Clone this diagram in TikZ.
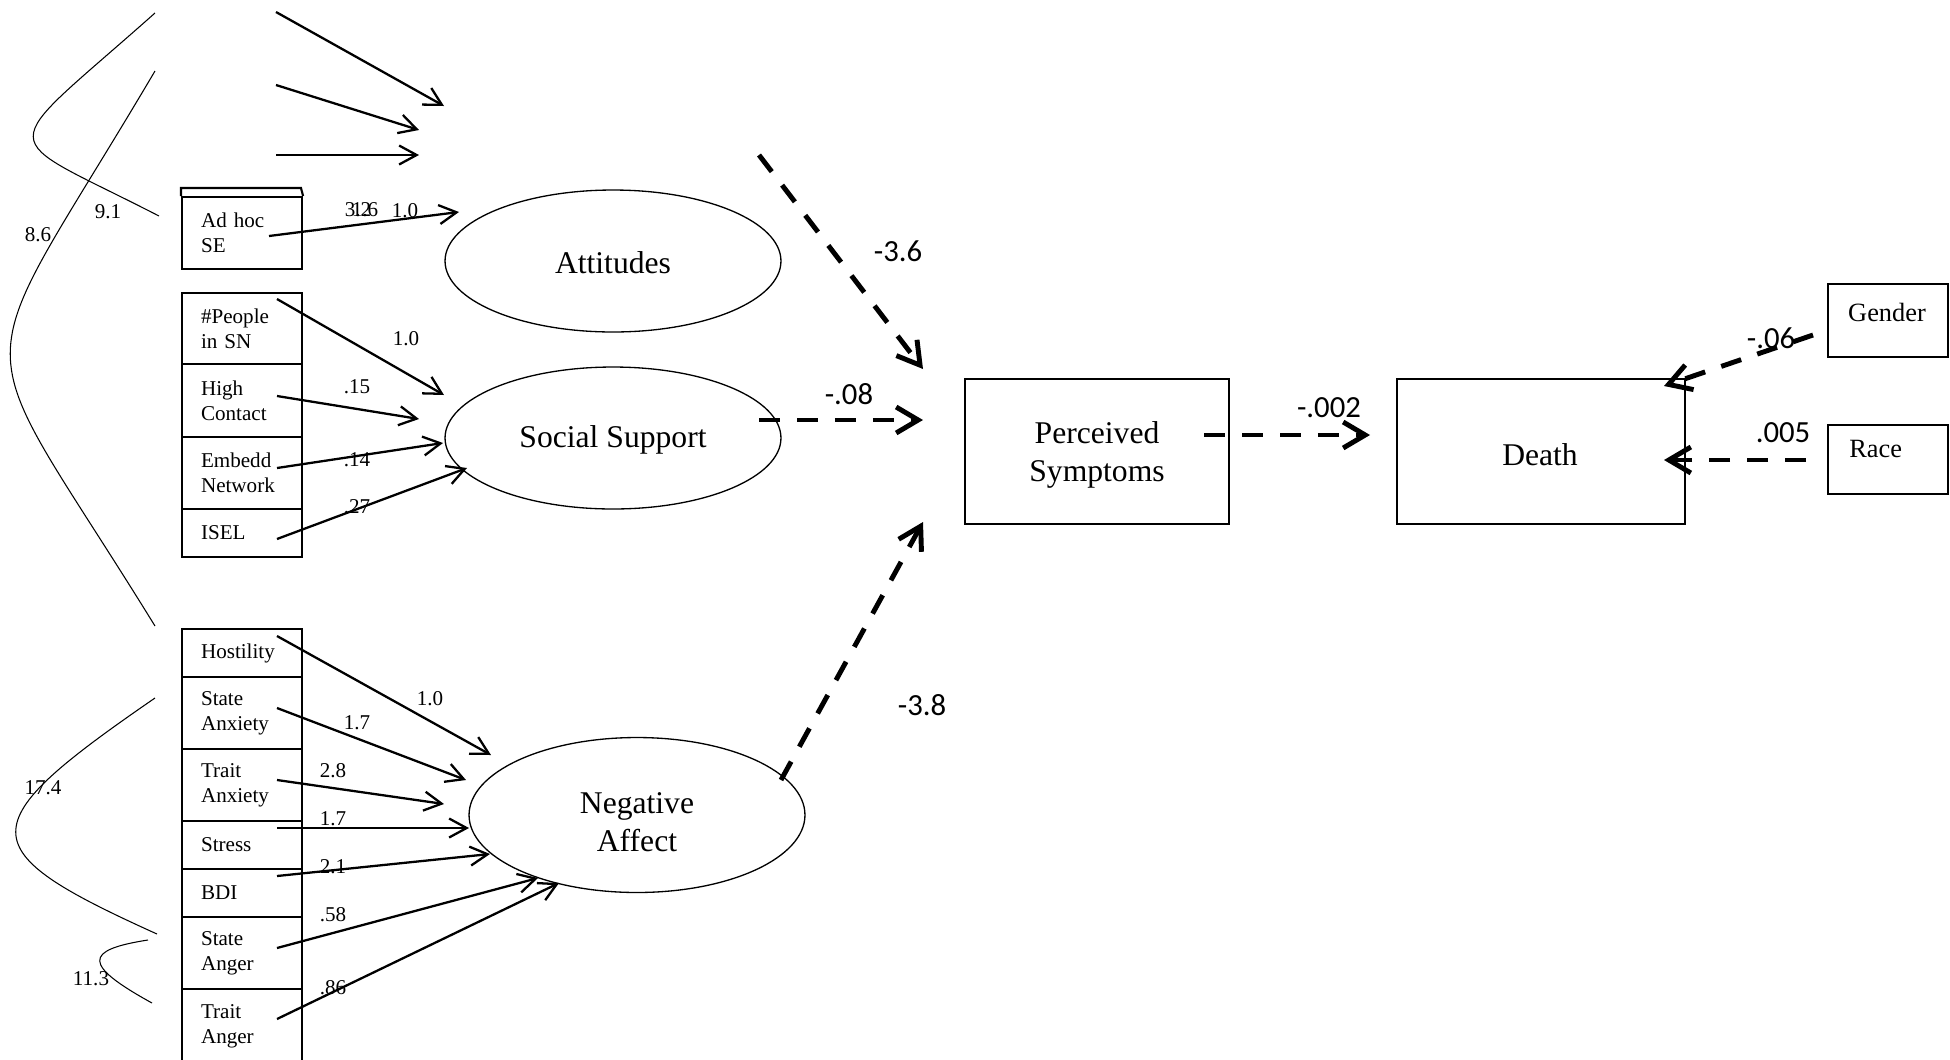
\documentclass[tikz,border=0pt]{standalone}
\usepackage{fontspec}
\setmainfont{Liberation Serif}
\newfontfamily\numfont{Carlito}
\usetikzlibrary{arrows.meta,shapes.geometric}

\newcommand{\indfont}{\fontsize{12pt}{14pt}\selectfont}
\newcommand{\latfont}{\fontsize{18pt}{22pt}\selectfont}
\newcommand{\boxfont}{\fontsize{15pt}{18pt}\selectfont}
\newcommand{\coeffont}{\numfont\fontsize{17.5pt}{20pt}\selectfont}

\begin{document}
\begin{tikzpicture}[x=0.02cm, y=-0.02cm,
  ind/.style={draw, line width=1.2pt, rectangle, anchor=north west,
    inner xsep=0.38cm, inner ysep=0pt, text width=1.64cm, align=left, font=\indfont},
  latent/.style={draw, ellipse, line width=0.75pt, inner sep=0pt,
    minimum width=6.72cm, minimum height=2.84cm},
  obs/.style={draw, rectangle, line width=1.2pt, inner sep=0pt},
  bigtxt/.style={font=\latfont, align=center, inner sep=0pt},
  smallbox/.style={draw, rectangle, line width=1.1pt, inner sep=0pt,
    minimum width=2.4cm},
  load/.style={line width=1.3pt, -{Straight Barb[length=0.35cm,width=0.38cm]}},
  effect/.style={line width=2.8pt, dash pattern=on 0.42cm off 0.34cm,
    -{Straight Barb[length=0.44cm,width=0.52cm]}},
  cov/.style={line width=0.6pt},
  lbl/.style={font=\indfont, inner sep=0pt},
  coef/.style={font=\coeffont, inner sep=0pt}]

\fill[white] (0,0) rectangle (1950,1059);
\useasboundingbox (0,0) rectangle (1950,1059);
\clip (0,0) rectangle (1950,1059);

% ---------- indicator boxes ----------
\node[ind, minimum height=1.44cm] (adhoc) at (181,196) {Ad hoc\\SE};
\draw[line width=1.2pt] (adhoc.north west) -- ++(0,-8) -- ++(120,0) -- (adhoc.north east);

\node[ind, minimum height=1.42cm] (people) at (181,292) {\#People\\in SN};
\node[ind, minimum height=1.46cm] (high)   at (181,363) {High\\Contact};
\node[ind, minimum height=1.44cm] (embed)  at (181,436) {Embedd\\Network};
\node[ind, minimum height=0.96cm] (isel)   at (181,508) {ISEL};

\node[ind, minimum height=0.96cm] (host)   at (181,628) {Hostility};
\node[ind, minimum height=1.44cm] (sanx)   at (181,676) {State\\Anxiety};
\node[ind, minimum height=1.44cm] (tanx)   at (181,748) {Trait\\Anxiety};
\node[ind, minimum height=0.96cm] (stress) at (181,820) {Stress};
\node[ind, minimum height=0.96cm] (bdi)    at (181,868) {BDI};
\node[ind, minimum height=1.44cm] (sang)   at (181,916) {State\\Anger};
\node[ind, minimum height=1.48cm] (tang)   at (181,988) {Trait\\Anger};

% ---------- latent variables ----------
\node[latent] (att) at (613,261) {};
\node[bigtxt] (atttxt) at (613,263) {Attitudes};
\node[latent] (ss)  at (613,438) {};
\node[bigtxt] (sstxt) at (613,440) {Social Support};
\node[latent, minimum height=3.1cm] (na) at (637,815) {};
\node[bigtxt] (natxt) at (637,822) {Negative\\Affect};

% ---------- observed outcomes ----------
\node[obs, minimum width=5.28cm, minimum height=2.9cm] (ps) at (1097,451.5) {};
\node[bigtxt] (pstxt) at (1097,455) {Perceived\\Symptoms};
\node[obs, minimum width=5.76cm, minimum height=2.9cm] (death) at (1541,451.5) {};
\node[bigtxt] (deathtxt) at (1540,455) {Death};
\node[smallbox, minimum height=1.46cm] (gender) at (1888,320.5) {};
\node[font=\boxfont, inner sep=0pt] (gendertxt) at (1887,312) {Gender};
\node[smallbox, minimum height=1.38cm] (race) at (1888,459.5) {};
\node[font=\boxfont, inner sep=0pt, anchor=west] (racetxt) at (1849,449) {Race};

% ---------- connector end points ----------
\coordinate (t1s) at (276,12);   \coordinate (t1e) at (444,106);
\coordinate (t2s) at (276,85);   \coordinate (t2e) at (419,130);
\coordinate (t3s) at (276,155);  \coordinate (t3e) at (419,155);
\coordinate (adS) at (269,236);  \coordinate (adE) at (459,212);

\coordinate (peS) at (277,299);  \coordinate (peE) at (444,395);
\coordinate (hcS) at (277,396);  \coordinate (hcE) at (419,419);
\coordinate (enS) at (277,468);  \coordinate (enE) at (443,443);
\coordinate (isS) at (277,539);  \coordinate (isE) at (467,468);

\coordinate (hoS) at (277,636);  \coordinate (hoE) at (491,755);
\coordinate (saS) at (277,708);  \coordinate (saE) at (466,780);
\coordinate (taS) at (277,780);  \coordinate (taE) at (444,804);
\coordinate (stS) at (277,828);  \coordinate (stE) at (469,828);
\coordinate (bdS) at (277,876);  \coordinate (bdE) at (490,854);
\coordinate (sgS) at (277,948);  \coordinate (sgE) at (538,878);
\coordinate (tgS) at (277,1019); \coordinate (tgE) at (559,883);

\coordinate (d1s) at (759,155);  \coordinate (d1e) at (923,369);
\coordinate (d2s) at (759,420);  \coordinate (d2e) at (923,420);
\coordinate (d3s) at (781,780);  \coordinate (d3e) at (923,522);
\coordinate (d4s) at (1204,435); \coordinate (d4e) at (1370,435);
\coordinate (d5s) at (1813,335); \coordinate (d5e) at (1664,386);
\coordinate (d6s) at (1806,460); \coordinate (d6e) at (1664,460);

% ---------- loadings ----------
\draw[load] (t1s) -- (t1e);
\draw[load] (t2s) -- (t2e);
\draw[load] (t3s) -- (t3e);
\draw[load] (adS) -- (adE);

\draw[load] (peS) -- (peE);
\draw[load] (hcS) -- (hcE);
\draw[load] (enS) -- (enE);
\draw[load] (isS) -- (isE);

\draw[load] (hoS) -- (hoE);
\draw[load] (saS) -- (saE);
\draw[load] (taS) -- (taE);
\draw[load] (stS) -- (stE);
\draw[load] (bdS) -- (bdE);
\draw[load] (sgS) -- (sgE);
\draw[load] (tgS) -- (tgE);

% ---------- structural paths ----------
\draw[effect] (d1s) -- (d1e);
\draw[effect] (d2s) -- (d2e);
\draw[effect] (d3s) -- (d3e);
\draw[effect] (d4s) -- (d4e);
\draw[effect] (d5s) -- (d5e);
\draw[effect] (d6s) -- (d6e);

% ---------- covariances ----------
\coordinate (c1s) at (155,13);  \coordinate (c1e) at (159,216);
\coordinate (c2s) at (155,71);  \coordinate (c2e) at (155,626);
\coordinate (c3s) at (155,698); \coordinate (c3e) at (157,934);
\coordinate (c4s) at (148,940); \coordinate (c4e) at (152,1003);
\draw[cov] (c1s) .. controls (-8,158) and (-8,130) .. (c1e);
\draw[cov] (c2s) .. controls (-38,398) and (-38,313) .. (c2e);
\draw[cov] (c3s) .. controls (-31,826) and (-31,849) .. (c3e);
\draw[cov] (c4s) .. controls (83,950) and (83,965) .. (c4e);

% ---------- labels ----------
\node[lbl] (l91)  at (108,212) {9.1};
\node[lbl] (l86)  at (38,235)  {8.6};
\node[lbl] (l174) at (43,788)  {17.4};
\node[lbl] (l113) at (91,979)  {11.3};

\node[lbl] (la1) at (358,210) {3.2};
\node[lbl] (la2) at (365,210) {1.6};
\node[lbl] (la3) at (405,211) {1.0};

\node[lbl] (ls1) at (406,339) {1.0};
\node[lbl] (ls2) at (357,387) {.15};
\node[lbl] (ls3) at (357,460) {.14};
\node[lbl] (ls4) at (357,507) {.27};

\node[lbl] (ln1) at (430,699) {1.0};
\node[lbl] (ln2) at (357,723) {1.7};
\node[lbl] (ln3) at (333,771) {2.8};
\node[lbl] (ln4) at (333,819) {1.7};
\node[lbl] (ln5) at (333,867) {2.1};
\node[lbl] (ln6) at (333,915) {.58};
\node[lbl] (ln7) at (333,988) {.86};

\node[coef] (k1) at (898,251)  {-3.6};
\node[coef] (k2) at (849,394)  {-.08};
\node[coef] (k3) at (922,705)  {-3.8};
\node[coef] (k4) at (1329,408) {-.002};
\node[coef] (k5) at (1771,338) {-.06};
\node[coef] (k6) at (1783,433) {.005};

\end{tikzpicture}
\end{document}
